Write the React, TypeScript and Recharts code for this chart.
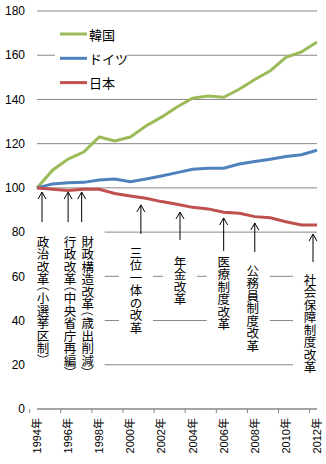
import React from 'react';
import { LineChart, Line, XAxis, YAxis, CartesianGrid, ReferenceDot, Legend } from 'recharts';

const years = ['1994年','1995年','1996年','1997年','1998年','1999年','2000年','2001年','2002年','2003年','2004年','2005年','2006年','2007年','2008年','2009年','2010年','2011年','2012年'];
const korea = [100,108,113,116.2,123,121.2,123,128,132,136.6,140.6,141.5,141,144.6,149,153,159,161.5,166];
const germany = [100,101.8,102.3,102.5,103.6,104,102.8,104,105.4,106.9,108.4,108.9,108.9,110.8,111.9,113,114.2,115,117];
const japan = [100,99.4,98.8,99.4,99.4,97.5,96.3,95.3,93.8,92.6,91.2,90.5,89,88.5,87,86.5,84.7,83.2,83.2];
const seriesNames = ['韓国', 'ドイツ', '日本'];
const yTicks = [0, 20, 40, 60, 80, 100, 120, 140, 160, 180];

const annotationYears = ['1994年','1996年','1997年','2001年','2003年','2006年','2008年','2012年'];
const annotationLabels = ['政治改革（小選挙区制）','行政改革（中央省庁再編）','財政構造改革（歳出削減）','三位一体の改革','年金改革','医療制度改革','公務員制度改革','社会保障制度改革'];
const annotationTips = [98.1, 98.1, 98.1, 92.3, 89.1, 86.4, 84.1, 79.1];

// layout (pixels)
const arrowDx = [5, 0, -2, -5, 3, 0, 0, -4];
const textDx = [1, 2, 6, -5, 0, 0, -2, -3];
const arrowLen = [30, 30, 30, 29, 28, 33, 29, 28];
const textGap = [13, 13, 13, 12, 15, 4, 12, 11];

const COLORS = ['#9BBB59', '#4F81BD', '#C0504D'];
const GRID = '#868686';
const W = 326, H = 464;
const MARGIN = { top: 11, right: 9, left: 0, bottom: 0 };
const Y_W = 37;
const BAND = (W - MARGIN.right - Y_W) / years.length;
const ANN_FS = 12.5;
const JP_FONT = "'Noto Sans CJK JP'";

const data = years.map((y, i) => ({ year: y, korea: korea[i], germany: germany[i], japan: japan[i] }));

const XTick = (props: any) => {
  const { x, y, payload } = props;
  return (
    <g>
      <line x1={x - BAND / 2} y1={y} x2={x - BAND / 2} y2={y + 4} stroke={GRID} />
      <text
        x={x}
        y={y + 9}
        transform={`rotate(-90 ${x} ${y + 9})`}
        textAnchor="end"
        dominantBaseline="central"
        fontSize={11}
        fontFamily={`'Liberation Sans', ${JP_FONT}`}
        fill="#000"
      >
        {payload.value}
      </text>
    </g>
  );
};

const isParen = (ch: string) => ch === '（' || ch === '）';

const labelLength = (label: string) => {
  let len = 0;
  for (const ch of label) len += isParen(ch) ? ANN_FS * 0.5 : ANN_FS;
  return len;
};

const VerticalText = ({ x, y, label }: { x: number; y: number; label: string }) => {
  let cursor = y;
  const parts: React.ReactNode[] = [];
  Array.from(label).forEach((ch, k) => {
    if (isParen(ch)) {
      const c = ch === '（' ? cursor : cursor + ANN_FS * 0.5;
      parts.push(
        <text key={k} x={x} y={c} textAnchor="middle" dominantBaseline="central" transform={`rotate(90 ${x} ${c})`}
          fontSize={ANN_FS} fontFamily={JP_FONT} fill="#000">{ch}</text>
      );
      cursor += ANN_FS * 0.5;
    } else {
      parts.push(
        <text key={k} x={x} y={cursor + ANN_FS / 2} textAnchor="middle" dominantBaseline="central"
          fontSize={ANN_FS} fontFamily={JP_FONT} fill="#000">{ch}</text>
      );
      cursor += ANN_FS;
    }
  });
  return <g>{parts}</g>;
};

const makeBox = (i: number) => (props: any) => {
  const { cx, cy } = props;
  if (cx == null || cy == null) return <g />;
  const ax = cx + arrowDx[i];
  const tx = ax + textDx[i];
  const top = cy + arrowLen[i] + textGap[i];
  return <rect x={tx - 17} y={top - 6} width={34} height={labelLength(annotationLabels[i]) + 12} fill="#fff" />;
};

const makeArrowText = (i: number) => (props: any) => {
  const { cx, cy } = props;
  if (cx == null || cy == null) return <g />;
  const ax = cx + arrowDx[i];
  const tx = ax + textDx[i];
  const bottom = cy + arrowLen[i];
  const top = bottom + textGap[i];
  return (
    <g>
      <line x1={ax} y1={cy} x2={ax} y2={bottom} stroke="#000" strokeWidth={1} />
      <polyline points={`${ax - 4},${cy + 7} ${ax},${cy} ${ax + 4},${cy + 7}`} fill="none" stroke="#000" strokeWidth={1} />
      <VerticalText x={tx} y={top} label={annotationLabels[i]} />
    </g>
  );
};

const LegendContent = () => (
  <svg width={72} height={76} style={{ display: 'block' }}>
    {seriesNames.map((n, i) => {
      const cy = 13 + i * 24.3;
      return (
        <g key={n}>
          <line x1={5} y1={cy} x2={32} y2={cy} stroke={COLORS[i]} strokeWidth={3} />
          <text x={34} y={cy} dominantBaseline="central" fontSize={13} fontFamily={JP_FONT} fill="#000">{n}</text>
        </g>
      );
    })}
  </svg>
);

export default function App() {
  return (
    <div style={{ position: 'absolute', left: 0, top: 0, background: '#fff' }}>
      <LineChart width={W} height={H} data={data} margin={MARGIN}>
        <CartesianGrid vertical={false} stroke={GRID} />
        <XAxis
          dataKey="year"
          interval={1}
          height={H - 409}
          tickLine={false}
          tickSize={0}
          tickMargin={0}
          axisLine={{ stroke: GRID }}
          tick={<XTick />}
        />
        <YAxis
          domain={[0, 180]}
          ticks={yTicks}
          width={Y_W}
          axisLine={false}
          tickLine={false}
          tickMargin={6}
          tick={{ fontSize: 12, fill: '#000', fontFamily: "'Liberation Sans'" }}
        />
        {annotationYears.map((yr, i) => (
          <ReferenceDot key={'b' + yr} x={yr} y={annotationTips[i]} r={0} shape={makeBox(i)} />
        ))}
        {annotationYears.map((yr, i) => (
          <ReferenceDot key={'a' + yr} x={yr} y={annotationTips[i]} r={0} shape={makeArrowText(i)} />
        ))}
        <Line dataKey="korea" name={seriesNames[0]} stroke={COLORS[0]} strokeWidth={3} dot={false} isAnimationActive={false} />
        <Line dataKey="germany" name={seriesNames[1]} stroke={COLORS[1]} strokeWidth={3} dot={false} isAnimationActive={false} />
        <Line dataKey="japan" name={seriesNames[2]} stroke={COLORS[2]} strokeWidth={3} dot={false} isAnimationActive={false} />
        <Legend
          layout="vertical"
          align="center"
          verticalAlign="middle"
          wrapperStyle={{ left: 55, top: 21, width: 72, height: 76, background: '#fff' }}
          content={<LegendContent />}
        />
      </LineChart>
    </div>
  );
}
